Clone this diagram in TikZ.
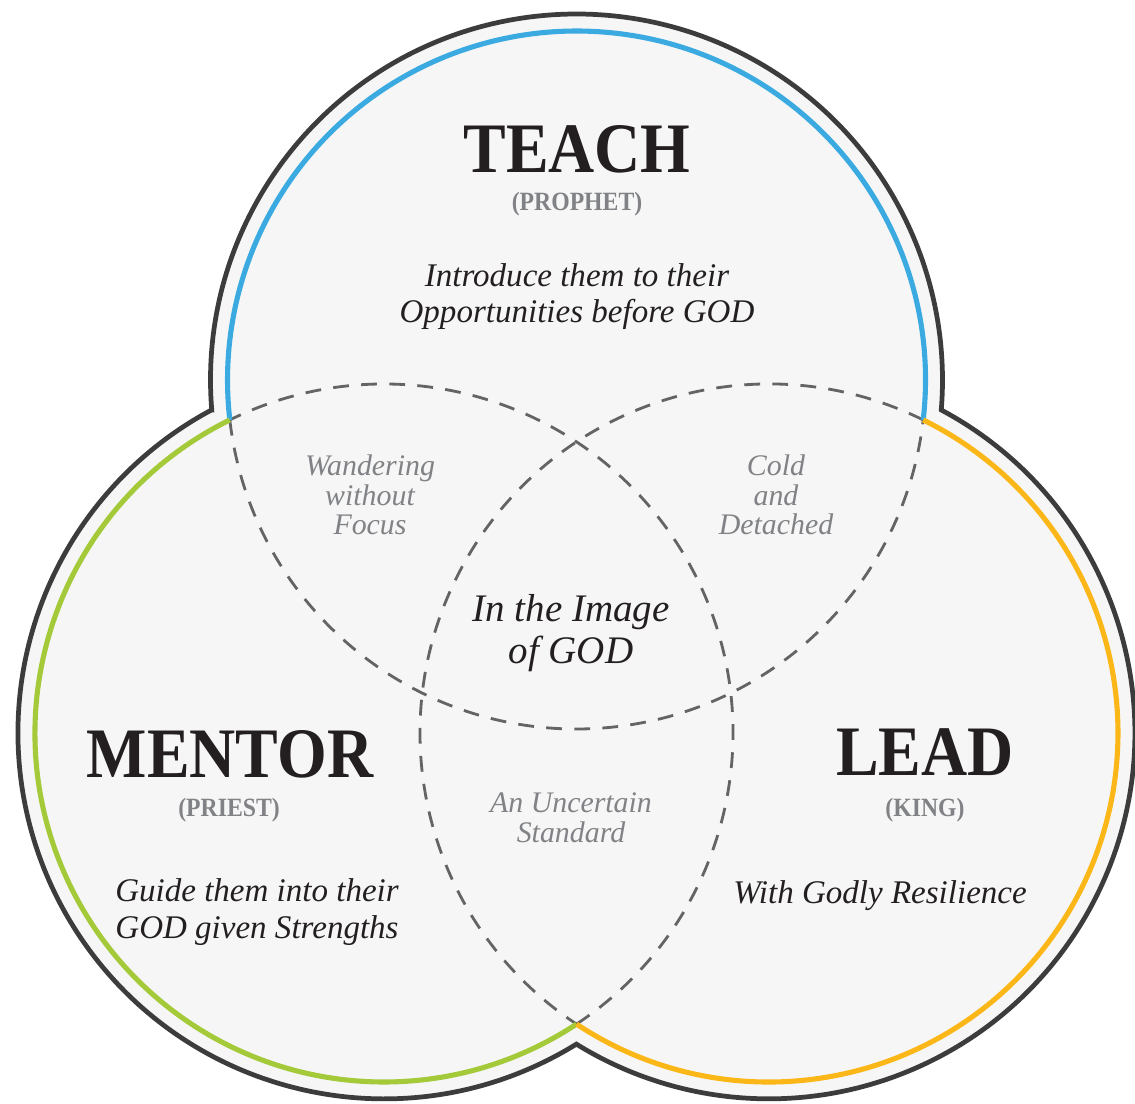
\documentclass[tikz,border=0pt]{standalone}
\usepackage{fontspec}
\setmainfont{Liberation Serif}[ItalicFont={Liberation Serif Italic}]
\newfontfamily\headfont{Liberation Serif}[FakeStretch=0.9]

\definecolor{rimgray}{RGB}{60,60,60}
\definecolor{fillgray}{RGB}{246,246,246}
\definecolor{teachblue}{RGB}{58,170,225}
\definecolor{mentorgreen}{RGB}{164,201,57}
\definecolor{leadorange}{RGB}{251,183,24}
\definecolor{inkdark}{RGB}{35,31,32}
\definecolor{inkgray}{RGB}{128,130,133}
\definecolor{dashgray}{RGB}{100,100,100}

\tikzset{
  rim/.style={draw=rimgray, fill=fillgray, line width=2.7pt, line join=miter},
  ring/.style={line width=2.9pt},
  overlaparc/.style={draw=dashgray, line width=1.6pt, dash pattern=on 9pt off 7pt},
  heading/.style={font=\headfont\bfseries\fontsize{40.4}{44}\selectfont, text=inkdark, anchor=base, inner sep=0pt},
  role/.style={font=\headfont\bfseries\fontsize{15}{18}\selectfont, text=inkgray, anchor=base, inner sep=0pt},
  motto/.style={font=\itshape\fontsize{18.8}{21}\selectfont, text=inkdark, align=center, anchor=base, inner sep=0pt},
  core/.style={font=\itshape\fontsize{22.2}{23.9}\selectfont, text=inkdark, align=center, anchor=base, inner sep=0pt},
  overlap/.style={font=\itshape\fontsize{17}{17}\selectfont, text=inkgray, align=center, anchor=base, inner sep=0pt}
}

\begin{document}
\begin{tikzpicture}[x=0.02cm, y=0.02cm]
\fill[white] (0,0) rectangle (1135,1103);
\useasboundingbox (0,0) rectangle (1135,1103);

\coordinate (T) at (576.5,723);
\coordinate (L) at (384,370);
\coordinate (R) at (769,370);

\path[rim] (T) ++(184.7:366) arc[start angle=184.7, end angle=-4.7, radius=366]
  arc[start angle=61.9, end angle=-121.73, radius=366]
  arc[start angle=-58.27, end angle=-241.9, radius=366] -- cycle;

\draw[overlaparc] (T) ++(186.57:349) arc[start angle=186.57, end angle=353.43, radius=349];
\draw[overlaparc] (L) ++(-56.52:349) arc[start angle=-56.52, end angle=116.22, radius=349];
\draw[overlaparc] (R) ++(63.78:349) arc[start angle=63.78, end angle=236.52, radius=349];

\draw[ring, teachblue] (T) ++(-6.57:349) arc[start angle=-6.57, end angle=186.57, radius=349];
\draw[ring, mentorgreen] (L) ++(116.22:349) arc[start angle=116.22, end angle=303.48, radius=349];
\draw[ring, leadorange] (R) ++(-123.48:349) arc[start angle=-123.48, end angle=63.78, radius=349];

\node[heading] (teach) at (577,930) {TEACH};
\node[role] (prophet) at (577,892) {(PROPHET)};
\node[motto] (teachtext) at (577,780) {Introduce them to their\\Opportunities before GOD};

\node[heading] (mentor) at (230,326) {MENTOR};
\node[role] (priest) at (229,287) {(PRIEST)};
\node[motto] (mentortext) at (257,165) {Guide them into their\\GOD given Strengths};

\node[heading] (lead) at (925,328) {LEAD};
\node[role] (king) at (925,287) {(KING)};
\node[motto] (leadtext) at (880,200) {With Godly Resilience};

\node[overlap] (wandering) at (370,568) {Wandering\\without\\Focus};
\node[overlap] (cold) at (776,568) {Cold\\and\\Detached};
\node[overlap] (uncertain) at (571,261) {An Uncertain\\Standard};
\node[core] (image) at (571,440) {In the Image\\of GOD};
\end{tikzpicture}
\end{document}
